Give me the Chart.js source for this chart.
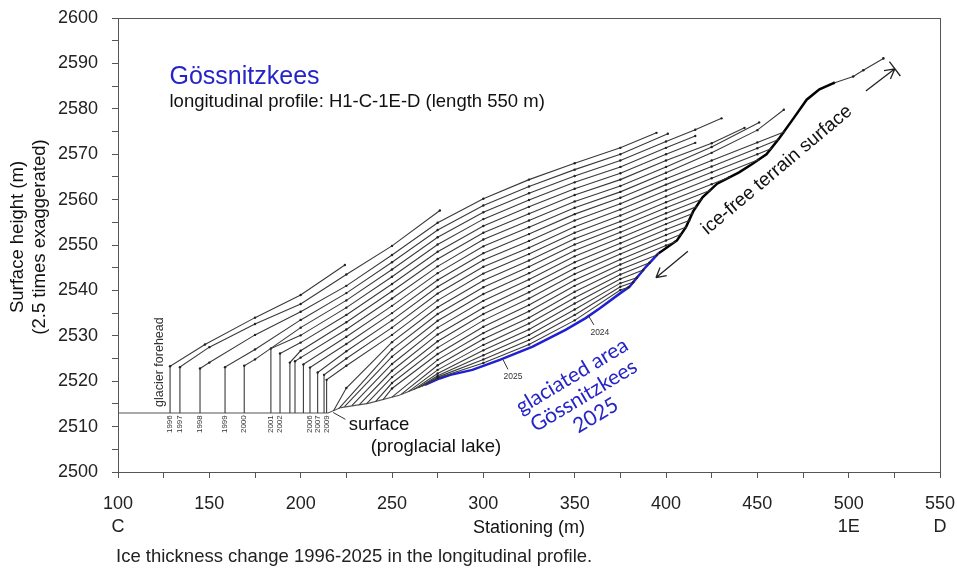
<!DOCTYPE html>
<html>
<head>
<meta charset="utf-8">
<title>Gössnitzkees longitudinal profile</title>
<script src="https://cdn.jsdelivr.net/npm/chart.js@4.4.1/dist/chart.umd.min.js"></script>
<style>
    html, body { margin: 0; padding: 0; background: #fff; }
    #wrap { position: relative; width: 957px; height: 570px; }
    #caption { position: absolute; left: 116px; top: 545px; font: 18.5px "Liberation Sans", Arial, sans-serif; color: #222; line-height: 22px; }
</style>
</head>
<body>
<div id="wrap">
    <canvas id="profileChart" width="957" height="570"></canvas>
    <div id="caption">Ice thickness change 1996-2025 in the longitudinal profile.</div>
</div>
<script>
// --- Data: [stationing (m), surface height (m)] per survey year ---
const p1996 = [[128.5,2513],[128.5,2523.3],[147.6,2528.1],[175,2534.0],[200,2539.0],[224.2,2545.6]];
const p1997 = [[133.9,2513],[133.9,2523.1],[150,2527.5],[175,2532.6],[200,2537.0],[225,2543.5],[250,2549.8],[276.2,2557.6]];
const p1998 = [[144.9,2513],[144.9,2522.8],[150,2524.1],[175,2530.2],[200,2535.3],[225,2541.0],[250,2547.8],[275,2554.9],[300,2560.2],[325,2564.4],[350,2568.0],[375,2571.4],[394.8,2574.7]];
const p1999 = [[158.6,2513],[158.6,2523.1],[175,2527.0],[200,2533.5],[225,2539.4],[250,2546.2],[275,2553.3],[300,2558.7],[325,2562.9],[350,2566.6],[375,2570.0],[401,2574.5]];
const p2000 = [[169.1,2513],[169.1,2523.4],[175,2524.8],[200,2531.8],[225,2537.8],[250,2544.6],[275,2551.7],[300,2557.2],[325,2561.4],[350,2565.2],[375,2568.6],[400,2572.8],[416,2575.4],[430.4,2577.9]];
const p2001 = [[183.7,2513],[183.7,2527.2],[200,2530.1],[225,2536.2],[250,2543.0],[275,2550.1],[300,2555.7],[325,2559.9],[350,2563.8],[375,2567.2],[400,2571.4],[416,2574.0]];
const p2002 = [[188.7,2513],[188.7,2526.1],[200,2528.5],[225,2534.6],[250,2541.4],[275,2548.5],[300,2554.2],[325,2558.4],[350,2562.4],[375,2565.8],[400,2570.0],[416,2572.5]];
const p2003 = [[194.1,2513],[194.1,2524.1],[200,2526.7],[225,2533.0],[250,2539.8],[275,2546.9],[300,2552.7],[325,2556.9],[350,2561.0],[375,2564.4],[400,2568.6],[425,2572.4],[443,2575.8]];
const p2004 = [[196.9,2513],[196.9,2524.4],[200,2525.2],[225,2531.4],[250,2538.2],[275,2545.3],[300,2551.2],[325,2555.4],[350,2559.6],[375,2563.0],[400,2567.2],[425,2571.6],[451,2577.0]];
const p2005 = [[201.5,2513],[201.5,2523.7],[225,2529.8],[250,2536.6],[275,2543.8],[300,2549.7],[325,2553.9],[350,2558.2],[375,2561.7],[400,2565.9],[425,2570.3],[450,2575.3],[464.5,2579.8]];
const p2006 = [[205.1,2513],[205.1,2523.0],[225,2528.2],[250,2535.0],[275,2542.3],[300,2548.2],[325,2552.4],[350,2556.8],[375,2560.4],[400,2564.6],[425,2568.6],[450,2572.6],[464.6,2574.9]];
const p2007 = [[209.3,2513],[209.3,2521.9],[225,2526.6],[250,2533.4],[275,2540.8],[300,2546.7],[325,2550.9],[350,2555.4],[375,2559.1],[400,2563.3],[425,2567.3],[450,2571.3],[461.3,2573.2]];
const p2008 = [[212.8,2513],[212.8,2521.4],[225,2525.0],[250,2531.8],[275,2539.3],[300,2545.2],[325,2549.4],[350,2554.0],[375,2557.8],[400,2562.0],[425,2566.0],[450,2570.0],[457.5,2571.2]];
const p2009 = [[214.2,2513],[214.2,2520.3],[225,2523.4],[250,2530.2],[275,2537.8],[300,2543.7],[325,2548.0],[350,2552.7],[375,2556.5],[400,2560.7],[425,2564.7],[450.5,2568.8]];
const p2010 = [[218,2513.5],[225,2518.5],[250,2528.6],[275,2536.3],[300,2542.2],[325,2546.6],[350,2551.4],[375,2555.2],[400,2559.4],[425,2563.4],[434.5,2564.9]];
const p2011 = [[221,2514.0],[250,2527.0],[275,2534.8],[300,2540.7],[325,2545.2],[350,2550.1],[375,2554.0],[400,2558.2],[424,2562.0]];
const p2012 = [[224,2514.4],[250,2525.4],[275,2533.3],[300,2539.2],[325,2543.8],[350,2548.8],[375,2552.8],[400,2557.0],[419.2,2560.0]];
const p2013 = [[228,2514.6],[250,2523.8],[275,2531.8],[300,2537.7],[325,2542.4],[350,2547.5],[375,2551.6],[400,2555.8],[416.5,2558.4]];
const p2014 = [[232,2514.8],[250,2522.3],[275,2530.3],[300,2536.2],[325,2541.0],[350,2546.2],[375,2550.4],[400,2554.6],[414.3,2556.9]];
const p2015 = [[236,2515.0],[250,2520.9],[275,2528.8],[300,2534.8],[325,2539.6],[350,2544.9],[375,2549.2],[400,2553.4],[412.7,2555.4]];
const p2016 = [[241,2515.5],[250,2519.6],[275,2527.4],[300,2533.4],[325,2538.2],[350,2543.6],[375,2548.0],[400,2552.2],[410.8,2553.9]];
const p2017 = [[245,2515.9],[250,2518.4],[275,2526.0],[300,2532.0],[325,2536.8],[350,2542.3],[375,2546.8],[400,2551.0],[408,2552.3]];
const p2018 = [[250,2516.5],[275,2524.7],[300,2530.6],[325,2535.4],[350,2541.0],[375,2545.7],[400,2549.9],[405,2550.7]];
const p2019 = [[255,2517.1],[275,2523.5],[300,2529.3],[325,2534.0],[350,2539.7],[375,2544.6],[395,2547.8]];
const p2020 = [[259,2517.7],[275,2522.5],[300,2528.0],[325,2532.7],[350,2538.4],[375,2543.5],[391,2546.1]];
const p2021 = [[262,2518.2],[275,2521.7],[300,2526.8],[325,2531.4],[350,2537.1],[375,2542.5],[387.5,2544.5]];
const p2022 = [[264.5,2518.6],[275,2521.2],[300,2525.7],[325,2530.2],[350,2535.8],[375,2541.6],[384,2542.8]];
const p2023 = [[266.3,2518.9],[275,2520.9],[300,2524.8],[325,2529.1],[350,2534.6],[375,2540.8],[382,2541.8]];
const p2024 = [[267.8,2519.2],[275,2520.7],[300,2524.0],[325,2528.1],[350,2533.4],[375,2540.1],[379.5,2540.7]];
const glacier2025 = [[268,2519.2],[276,2520.6],[282,2521.4],[294,2522.5],[309,2524.7],[327,2527.6],[345,2531.3],[356,2533.9],[364,2536.1],[375,2539.4],[380,2540.8],[389,2545.2],[396,2548.2]];
const terrain = [[396,2548.2],[406,2551],[411,2554],[415,2557.5],[420,2560.5],[428,2563.5],[440,2566],[447,2567.8],[455,2570],[462,2573.5],[470,2578],[477,2582],[484,2584.3],[492,2585.7]];
const terrainTop = [[492,2585.7],[502.5,2587.1],[508,2588.5],[519,2591.1]];
const lakeSurface = [[100,2513],[215,2513],[222,2514.2],[237,2515.1],[254,2516.9],[268,2519.2]];

const profileYears = [1996,1997,1998,1999,2000,2001,2002,2003,2004,2005,2006,2007,2008,2009,2010,
    2011,2012,2013,2014,2015,2016,2017,2018,2019,2020,2021,2022,2023,2024];
const profiles = [p1996,p1997,p1998,p1999,p2000,p2001,p2002,p2003,p2004,p2005,p2006,p2007,p2008,p2009,p2010,
    p2011,p2012,p2013,p2014,p2015,p2016,p2017,p2018,p2019,p2020,p2021,p2022,p2023,p2024];

// labelled glacier front positions (written under the lake surface)
const frontLabelYears = [1996,1997,1998,1999,2000,2001,2002,2006,2007,2009];

// axis tick labels
const stationMarks = [100, 500, 550];
const stationNames = ['C', '1E', 'D'];

const FONT = '"Liberation Sans", Arial, sans-serif';
const toXY = arr => arr.map(([x, y]) => ({ x, y }));

// --- Datasets ---
const datasets = profiles.map((arr, i) => ({
    label: String(profileYears[i]),
    data: toXY(arr),
    showLine: true,
    borderColor: '#3a3a3a',
    borderWidth: 1.1,
    pointRadius: ctx => (ctx.dataIndex === 0 ? 0 : 1.2),
    pointBackgroundColor: '#222',
    pointBorderWidth: 0
}));

datasets.push({
    label: 'lake', data: toXY(lakeSurface), showLine: true,
    borderColor: '#555', borderWidth: 1.2, pointRadius: 0
});
datasets.push({
    label: '2025', data: toXY(glacier2025), showLine: true,
    borderColor: '#1f1fd4', borderWidth: 2.5, pointRadius: 0
});
datasets.push({
    label: 'terrain', data: toXY(terrain), showLine: true,
    borderColor: '#000', borderWidth: 2.5, pointRadius: 0
});
datasets.push({
    label: 'terrain top', data: toXY(terrainTop), showLine: true,
    borderColor: '#3a3a3a', borderWidth: 1.1, pointRadius: 1.3,
    pointBackgroundColor: '#222', pointBorderWidth: 0
});

// --- Annotations (texts, arrows, frame) ---
const annotations = {
    id: 'annotations',
    afterDraw(chart) {
        const { ctx, chartArea: a, scales: { x, y } } = chart;
        const px = v => x.getPixelForValue(v);
        const py = v => y.getPixelForValue(v);

        function text(str, xv, yv, o = {}) {
            ctx.save();
            ctx.translate(px(xv), py(yv));
            ctx.rotate((o.angle || 0) * Math.PI / 180);
            ctx.font = o.font || ('18px ' + FONT);
            ctx.fillStyle = o.color || '#222';
            ctx.textAlign = o.align || 'left';
            ctx.textBaseline = 'middle';
            ctx.fillText(str, 0, 0);
            ctx.restore();
        }

        function line(x1, y1, x2, y2, color, w) {
            ctx.beginPath();
            ctx.moveTo(px(x1), py(y1));
            ctx.lineTo(px(x2), py(y2));
            ctx.strokeStyle = color || '#333';
            ctx.lineWidth = w || 1;
            ctx.stroke();
        }

        function arrow(x1, y1, x2, y2, bar) {
            const ax = px(x1), ay = py(y1), bx = px(x2), by = py(y2);
            const ang = Math.atan2(by - ay, bx - ax);
            ctx.strokeStyle = '#222';
            ctx.lineWidth = 1.3;
            ctx.beginPath();
            ctx.moveTo(ax, ay);
            ctx.lineTo(bx, by);
            [-0.5, 0.5].forEach(d => {
                ctx.moveTo(bx, by);
                ctx.lineTo(bx - 11 * Math.cos(ang + d), by - 11 * Math.sin(ang + d));
            });
            if (bar) {
                const n = ang + Math.PI / 2;
                ctx.moveTo(bx + 9 * Math.cos(n), by + 9 * Math.sin(n));
                ctx.lineTo(bx - 9 * Math.cos(n), by - 9 * Math.sin(n));
            }
            ctx.stroke();
        }

        ctx.save();

        // frame around the plot
        ctx.strokeStyle = '#555';
        ctx.lineWidth = 1;
        ctx.strokeRect(a.left + 0.5, a.top + 0.5, a.right - a.left, a.bottom - a.top);

        // titles
        text('Gössnitzkees', 128.2, 2586.9, { font: '25px ' + FONT, color: '#2424c8' });
        text('longitudinal profile: H1-C-1E-D (length 550 m)', 128.2, 2581.6, { font: '18.5px ' + FONT, color: '#111' });

        // glacier front labels
        text('glacier forehead', 123, 2524.2, { font: '12.5px ' + FONT, color: '#333', angle: -90, align: 'center' });
        frontLabelYears.forEach(yr => {
            const front = profiles[profileYears.indexOf(yr)][0][0];
            text(String(yr), front, 2512.5, { font: '8px ' + FONT, color: '#333', angle: -90, align: 'right' });
        });

        // lake surface note
        line(224.5, 2511.6, 217.8, 2513.1, '#333', 1);
        text('surface', 226.3, 2510.4, { font: '18.5px ' + FONT, color: '#111' });
        text('(proglacial lake)', 238.3, 2505.5, { font: '18.5px ' + FONT, color: '#111' });

        // year markers on the lowest profiles
        line(360.5, 2532.4, 357.3, 2534.6, '#333', 1);
        text('2024', 363.8, 2530.8, { font: '8.5px ' + FONT, color: '#333', align: 'center' });
        line(313.5, 2522.6, 310.7, 2524.8, '#333', 1);
        text('2025', 316.2, 2520.9, { font: '8.5px ' + FONT, color: '#333', align: 'center' });

        // glaciated area
        ['glaciated area', 'Gössnitzkees', '2025'].forEach((s, i) => {
            const off = (i - 1) * 23;
            const cx = px(355) + off * Math.sin(31 * Math.PI / 180);
            const cy = py(2516.8) + off * Math.cos(31 * Math.PI / 180);
            ctx.save();
            ctx.translate(cx, cy);
            ctx.rotate(-31 * Math.PI / 180);
            ctx.font = '21px Lato, "Open Sans", sans-serif';
            ctx.fillStyle = '#2424c8';
            ctx.textAlign = 'center';
            ctx.textBaseline = 'middle';
            ctx.fillText(s, 0, 0);
            ctx.restore();
        });

        // ice-free terrain
        text('ice-free terrain surface', 460.7, 2566.5, { font: '19px ' + FONT, color: '#111', angle: -40, align: 'center' });
        arrow(412, 2548.6, 394.5, 2542.8, false);
        arrow(509.4, 2583.9, 525.3, 2588.8, true);

        // axis titles
        ctx.fillStyle = '#111';
        ctx.font = '18.5px ' + FONT;
        ctx.textAlign = 'center';
        ctx.textBaseline = 'middle';
        ctx.save();
        ctx.translate(18, 237);
        ctx.rotate(-Math.PI / 2);
        ctx.fillText('Surface height (m)', 0, 0);
        ctx.restore();
        ctx.save();
        ctx.translate(40, 237);
        ctx.rotate(-Math.PI / 2);
        ctx.fillText('(2.5 times exaggerated)', 0, 0);
        ctx.restore();
        ctx.font = '18px ' + FONT;
        ctx.fillText('Stationing (m)', px(325), a.bottom + 56);

        ctx.restore();
    }
};

new Chart(document.getElementById('profileChart'), {
    type: 'scatter',
    data: { datasets },
    options: {
        responsive: false,
        animation: false,
        layout: { padding: { top: 18, right: 17, left: 0, bottom: 0 } },
        plugins: { legend: { display: false }, tooltip: { enabled: false } },
        scales: {
            x: {
                type: 'linear',
                min: 100,
                max: 550,
                afterFit: s => { s.height = 98; s.paddingLeft = 0; s.paddingRight = 0; },
                grid: { drawOnChartArea: false, tickLength: 6, color: '#555' },
                border: { color: '#555', width: 1 },
                ticks: {
                    stepSize: 25,
                    autoSkip: false,
                    maxRotation: 0,
                    padding: 15,
                    color: '#222',
                    font: { family: FONT, size: 18, lineHeight: 1.25 },
                    callback: v => {
                        if (v % 50 !== 0) return '';
                        const k = stationMarks.indexOf(v);
                        return [String(v), k >= 0 ? stationNames[k] : ''];
                    }
                }
            },
            y: {
                min: 2500,
                max: 2600,
                afterFit: s => { s.width = 118; s.paddingTop = 0; s.paddingBottom = 0; },
                grid: { drawOnChartArea: false, tickLength: 6, color: '#555' },
                border: { color: '#555', width: 1 },
                ticks: {
                    stepSize: 5,
                    autoSkip: false,
                    padding: 14,
                    color: '#222',
                    font: { family: FONT, size: 18 },
                    callback: v => (v % 10 === 0 ? String(v) : '')
                }
            }
        }
    },
    plugins: [annotations]
});
</script>
</body>
</html>
